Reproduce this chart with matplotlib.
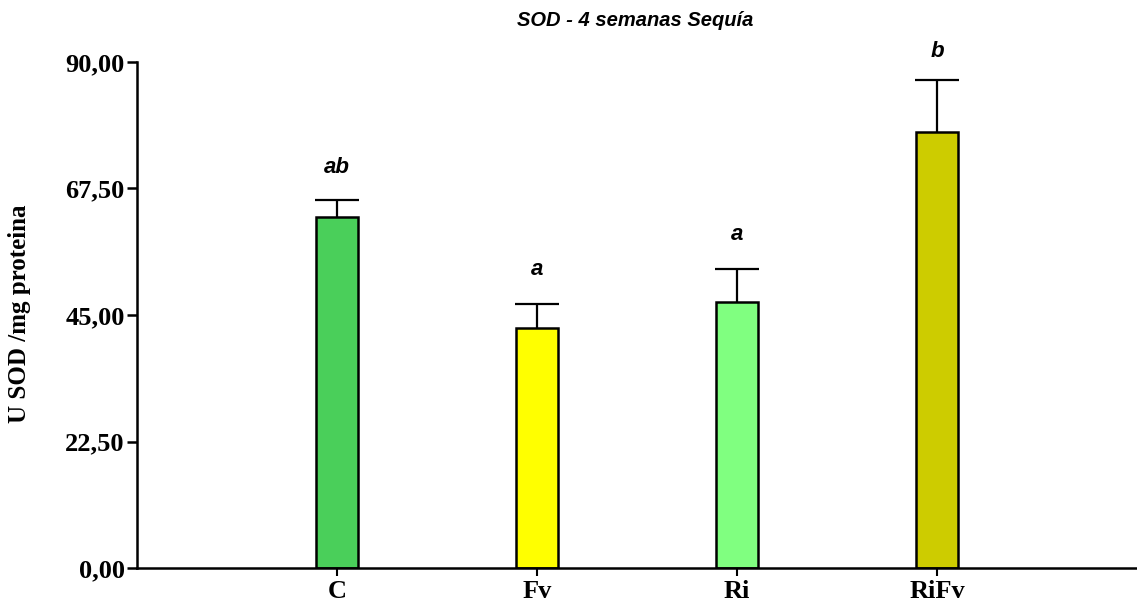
import matplotlib
matplotlib.use("Agg")
import matplotlib.pyplot as plt
from matplotlib.ticker import FixedLocator, FuncFormatter

categories = ["C", "Fv", "Ri", "RiFv"]
means = [62.4, 42.7, 47.3, 77.6]
errors = [3.1, 4.2, 5.9, 9.2]
letters = ["ab", "a", "a", "b"]
letter_y = [71.3, 53.1, 59.4, 91.8]
colors = ["#4ACF5A", "#FFFF00", "#80FF80", "#CDCC00"]
yticks = [0.0, 22.5, 45.0, 67.5, 90.0]

fig = plt.figure(figsize=(11.37, 6.05), dpi=100)
ax = fig.add_axes([137 / 1137, 37 / 605, 1000 / 1137, 506 / 605])

x = list(range(len(categories)))
ax.bar(x, means, width=0.21, color=colors, edgecolor="black", linewidth=1.8, zorder=2)

# upper-only error bars: hide the cap drawn at the bar top
_, caps, _ = ax.errorbar(x, means, yerr=[[0] * len(errors), errors], fmt="none",
                         ecolor="black", elinewidth=1.6, capsize=15.5, capthick=1.6,
                         zorder=1)
caps[0].set_visible(False)

for xi, lab, ly in zip(x, letters, letter_y):
    ax.text(xi, ly, lab, ha="center", va="center", fontsize=16,
            fontweight="bold", fontstyle="italic", family="Liberation Sans")

ax.set_xlim(-1, 4)
ax.set_ylim(0, 90)
ax.yaxis.set_major_locator(FixedLocator(yticks))
ax.yaxis.set_major_formatter(FuncFormatter(lambda v, p: f"{v:.2f}".replace(".", ",")))
ax.set_xticks(x)
ax.set_xticklabels(categories)

for side in ("top", "right"):
    ax.spines[side].set_visible(False)
for side in ("left", "bottom"):
    ax.spines[side].set_linewidth(1.8)

ax.tick_params(axis="y", direction="out", length=7, width=1.8, pad=2)
ax.tick_params(axis="x", direction="out", length=6, width=1.5, pad=3)
for lbl in ax.get_yticklabels() + ax.get_xticklabels():
    lbl.set_family("Liberation Serif")
    lbl.set_fontweight("bold")
    lbl.set_fontsize(19)

fig.text(20 / 1137, 1 - 314 / 605, "U SOD /mg proteina", rotation=90,
         ha="center", va="center", family="Liberation Serif", fontweight="bold",
         fontsize=18)

fig.text(635 / 1137, 1 - 20 / 605, "SOD - 4 semanas Sequía", ha="center", va="center",
         fontsize=14.5, fontweight="bold", fontstyle="italic", family="Liberation Sans")

fig.savefig("out.png", dpi=100)
